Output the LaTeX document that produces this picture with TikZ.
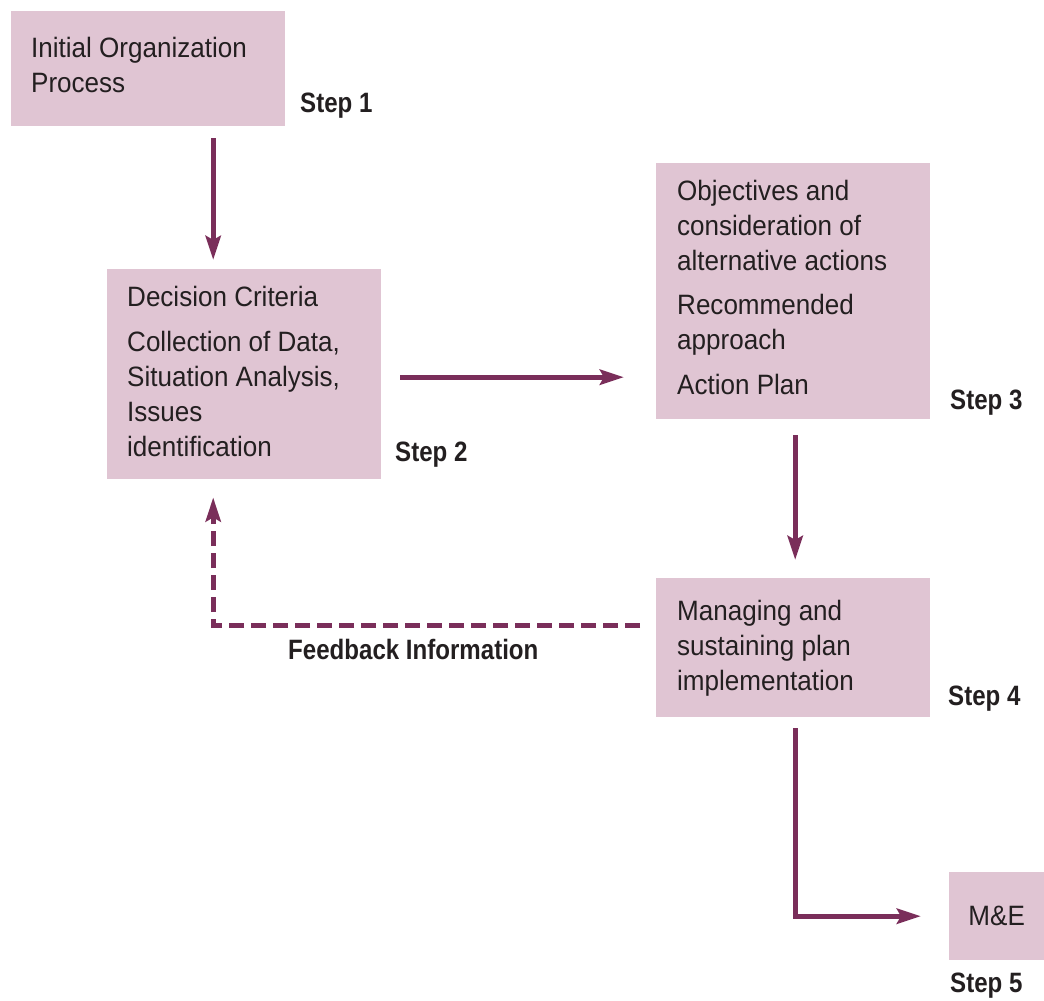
\documentclass[tikz,border=0pt]{standalone}
\usepackage{fontspec}
\setmainfont{Liberation Sans}[FakeStretch=0.93]
\newfontfamily\stepfont{Liberation Sans}[FakeStretch=0.86]
\usetikzlibrary{arrows.meta,calc}
\definecolor{boxfill}{RGB}{224,197,211}
\definecolor{plum}{RGB}{122,46,90}
\definecolor{ink}{RGB}{35,31,32}
\begin{document}
\begin{tikzpicture}[x=1pt,y=-1pt,
  box/.style={fill=boxfill, draw=none, anchor=north west, inner sep=0pt, text=ink,
              font=\fontsize{28}{35}\selectfont},
  txt/.style={anchor=north west, inner sep=0pt, align=left, text=ink,
              font=\fontsize{28}{35}\selectfont},
  steplbl/.style={anchor=base west, inner sep=0pt, text=ink,
              font=\stepfont\bfseries\fontsize{28}{34}\selectfont},
  arr/.style={draw=plum, line width=5.3pt,
              -{Stealth[length=24pt,width=15pt,inset=4pt]}},
  dasharr/.style={arr, dash pattern=on 15pt off 7pt}
]
\useasboundingbox (0,0) rectangle (1044,1001);

% boxes
\node[box, minimum width=274pt, minimum height=115pt] (b1) at (11,11) {};
\node[box, minimum width=274pt, minimum height=210pt] (b2) at (107,269) {};
\node[box, minimum width=274pt, minimum height=256pt] (b3) at (656,163) {};
\node[box, minimum width=274pt, minimum height=139pt] (b4) at (656,578) {};
\node[box, minimum width=95pt, minimum height=88pt] (b5) at (949,872) {M\&E};

% box texts
\node[txt] (t1) at ($(b1.north west)+(20,26)$) {Initial Organization\\Process};
\node[txt] (t2) at ($(b2.north west)+(20,17)$)
  {Decision Criteria\\[10pt]Collection of Data,\\Situation Analysis,\\Issues\\identification};
\node[txt] (t3) at ($(b3.north west)+(21,17)$)
  {Objectives and\\consideration of\\alternative actions\\[9pt]Recommended\\approach\\[10pt]Action Plan};
\node[txt] (t4) at ($(b4.north west)+(21,22)$)
  {Managing and\\sustaining plan\\implementation};

% step labels
\node[steplbl] (s1) at (300,112) {Step 1};
\node[steplbl] (s2) at (395,461) {Step 2};
\node[steplbl] (s3) at (950,409) {Step 3};
\node[steplbl] (s4) at (948,705) {Step 4};
\node[steplbl] (s5) at (950,992) {Step 5};
\node[steplbl] (fb) at (288,659) {Feedback Information};

% connectors
\draw[arr, shorten <=12pt, shorten >=9pt]
  ([xshift=65pt]b1.south) -- ([xshift=65pt]b1.south |- b2.north);
\draw[arr, shorten <=19pt, shorten >=32pt]
  ([yshift=-3pt]b2.east) -- ([yshift=-3pt]b2.east -| b3.west);
\draw[arr, shorten <=16pt, shorten >=18pt]
  ([xshift=2pt]b3.south) -- ([xshift=2pt]b3.south |- b4.north);
\draw[dasharr, shorten <=16pt, shorten >=18pt]
  ([yshift=22.5pt]b4.west) -| ([xshift=-31pt]b2.south);
\draw[arr, shorten <=11pt, shorten >=28pt]
  ([xshift=2pt]b4.south) |- (b5.west);
\end{tikzpicture}
\end{document}
